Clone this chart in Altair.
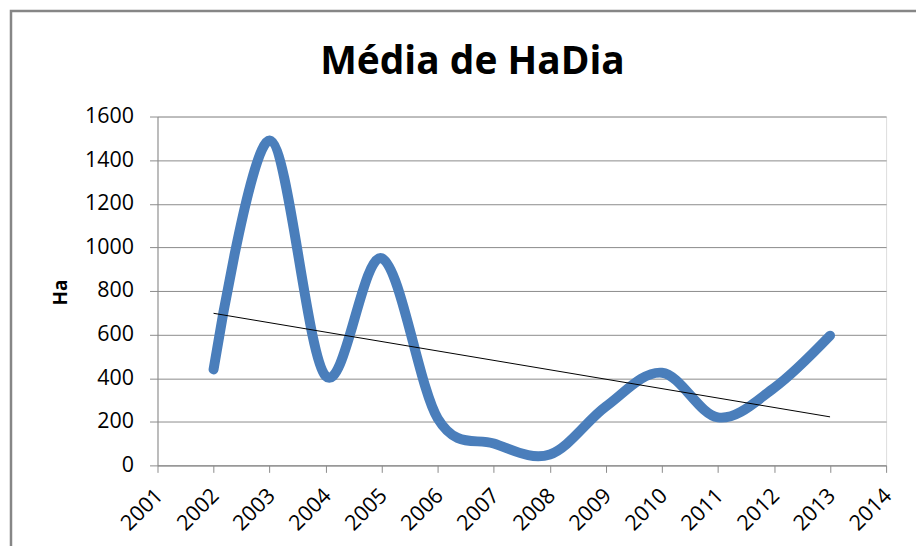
import altair as alt
import pandas as pd

years = [2002, 2003, 2004, 2005, 2006, 2007, 2008, 2009, 2010, 2011, 2012, 2013]
values = [440, 1490, 410, 950, 215, 100, 50, 270, 425, 220, 355, 595]
x_ticks = list(range(2001, 2015))
y_ticks = [0, 200, 400, 600, 800, 1000, 1200, 1400, 1600]
title_text = "Média de HaDia"

df = pd.DataFrame({"year": years, "value": values})

FONT = "Open Sans"
GRID = "#8c8c8c"

x_enc = alt.X(
    "year:Q",
    scale=alt.Scale(domain=[2001, 2014], nice=False, zero=False),
    axis=alt.Axis(
        values=x_ticks, format="d", title=None, grid=False,
        labelAngle=-45, labelAlign="right", labelBaseline="middle",
        labelPadding=20, labelOffset=2, tickSize=7, tickColor=GRID, domainColor=GRID,
        labelFont=FONT, labelFontSize=21.5, labelColor="#000000",
        labelOverlap=False, labelFlush=False,
    ),
)
y_enc = alt.Y(
    "value:Q",
    scale=alt.Scale(domain=[0, 1600], nice=False),
    axis=alt.Axis(
        values=y_ticks, format="d", title="Ha", grid=True, gridColor=GRID,
        tickSize=8, tickColor=GRID, domainColor=GRID,
        labelFont=FONT, labelFontSize=21.5, labelColor="#000000", labelPadding=16,
        titleFont=FONT, titleFontSize=19, titleFontWeight="bold", titleColor="#000000",
        titleX=-97, titleY=176, titleAngle=270, titleAlign="center", titleBaseline="middle",
    ),
)

line = alt.Chart(df).mark_line(
    color="#4a7ebb", strokeWidth=10, interpolate="cardinal", strokeCap="round", strokeJoin="round"
).encode(x=x_enc, y=y_enc)

trend = alt.Chart(df).transform_regression("year", "value").mark_line(
    color="#000000", strokeWidth=1
).encode(x="year:Q", y="value:Q")

one = pd.DataFrame({"t": [title_text]})

frame = alt.Chart(one).mark_rect(
    filled=False, stroke="#868686", strokeWidth=2.5, clip=False
).encode(
    x=alt.value(-147), x2=alt.value(820), y=alt.value(-106), y2=alt.value(520)
)

title = alt.Chart(one).mark_text(
    font=FONT, fontSize=39, fontWeight="bold", color="#000000",
    align="center", baseline="alphabetic",
).encode(text="t:N", x=alt.value(316), y=alt.value(-43))

chart = alt.layer(frame, line, trend, title).properties(
    width=731,
    height=350,
    autosize=alt.AutoSizeParams(type="none"),
    padding={"left": 150, "top": 108, "right": 30, "bottom": 80},
).configure_view(stroke=None).configure(background="white")

chart.save("out.html", embed_options={"renderer": "svg", "actions": False})
